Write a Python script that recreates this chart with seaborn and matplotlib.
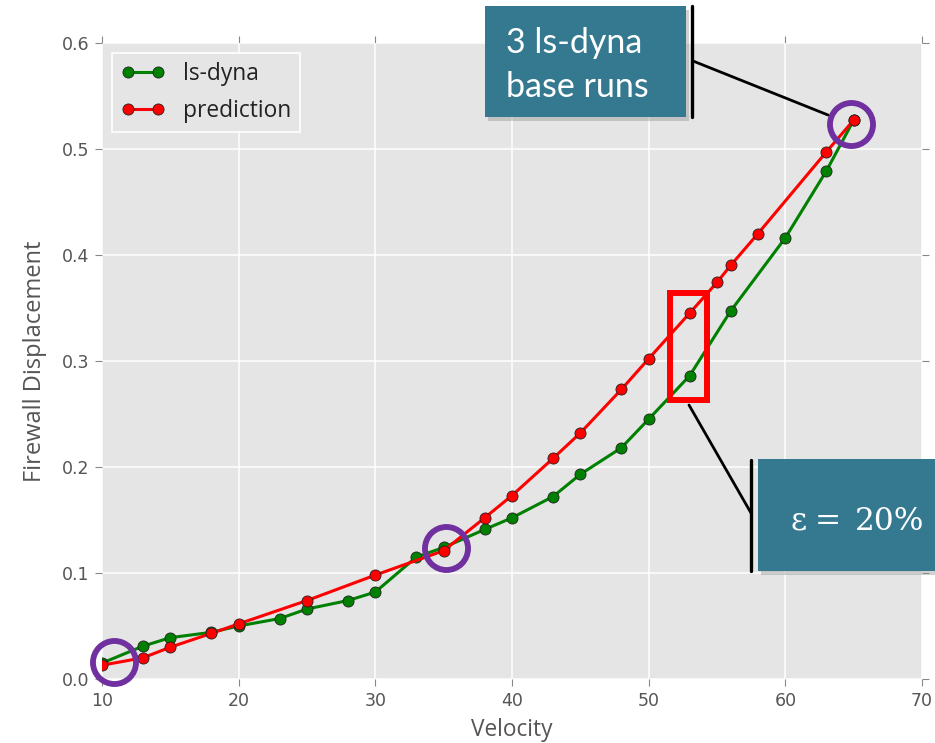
import matplotlib
matplotlib.use("Agg")
import matplotlib.pyplot as plt
import matplotlib.patches as mpatches
from matplotlib.lines import Line2D
import seaborn as sns
import pandas as pd

# ---------------- data ----------------
vel_lsdyna = [10, 13, 15, 18, 20, 23, 25, 28, 30, 33, 35, 38, 40, 43, 45, 48, 50, 53, 56, 60, 63, 65]
disp_lsdyna = [0.015, 0.031, 0.039, 0.044, 0.050, 0.057, 0.066, 0.074, 0.082, 0.115, 0.124,
               0.141, 0.152, 0.172, 0.193, 0.218, 0.245, 0.286, 0.347, 0.416, 0.479, 0.527]
vel_pred = [10, 13, 15, 18, 20, 25, 30, 35, 38, 40, 43, 45, 48, 50, 53, 55, 56, 58, 63, 65]
disp_pred = [0.013, 0.020, 0.030, 0.043, 0.052, 0.074, 0.098, 0.121, 0.152, 0.173, 0.208,
             0.232, 0.273, 0.302, 0.345, 0.374, 0.390, 0.420, 0.497, 0.527]
x_ticks = [10, 20, 30, 40, 50, 60, 70]
y_ticks = [0.0, 0.1, 0.2, 0.3, 0.4, 0.5, 0.6]
series_names = ["ls-dyna", "prediction"]
box1_lines = ["3 ls-dyna", "base runs"]
box2_parts = ["ε", "=", "20%"]

df_ls = pd.DataFrame({"Velocity": vel_lsdyna, "disp": disp_lsdyna})
df_pr = pd.DataFrame({"Velocity": vel_pred, "disp": disp_pred})

# ---------------- style ----------------
sns.set_theme(style="darkgrid")
plt.rcParams["font.family"] = ["DejaVu Sans"]

W, H = 935, 743
fig = plt.figure(figsize=(W / 100, H / 100), dpi=100)
fig.patch.set_facecolor("white")
ax = fig.add_axes([102 / W, (H - 679) / H, 820 / W, (679 - 42.7) / H])
ax.set_facecolor("#E5E5E5")
ax.grid(True, color="white", linewidth=1.1)
ax.set_axisbelow(True)
for s in ax.spines.values():
    s.set_visible(False)

sns.lineplot(data=df_ls, x="Velocity", y="disp", ax=ax, color="#008000", linewidth=2.2,
             marker="o", markersize=8, markeredgecolor="#222222", markeredgewidth=0.6,
             label=series_names[0], zorder=3)
sns.lineplot(data=df_pr, x="Velocity", y="disp", ax=ax, color="#FF0000", linewidth=2.2,
             marker="o", markersize=8, markeredgecolor="#222222", markeredgewidth=0.6,
             label=series_names[1], zorder=4)

ax.set_xlim(10, 70)
ax.set_ylim(0.0, 0.6)
ax.set_xticks(x_ticks)
ax.set_yticks(y_ticks)
ax.set_yticklabels([f"{v:.1f}" for v in y_ticks])
ax.tick_params(axis="both", which="both", direction="out", length=5, width=0.8,
               color="#888888", labelcolor="#555555", labelsize=12.5, pad=4,
               top=True, right=True, bottom=True, left=True,
               labeltop=False, labelright=False)

ax.set_xlabel("Velocity", fontfamily="Open Sans", fontsize=16.3, color="#555555")
ax.set_ylabel("Firewall Displacement", fontfamily="Open Sans", fontsize=17, color="#555555")
ax.xaxis.set_label_coords(0.5, -0.080)
ax.xaxis.label.set_va("center")
ax.yaxis.set_label_coords(-0.0817, 0.5)
ax.yaxis.label.set_va("center")

leg = ax.legend(loc="upper left", numpoints=2, prop={"family": "Open Sans", "size": 16.4},
                handlelength=1.9, handletextpad=0.8, borderpad=0.4, labelspacing=0.55,
                frameon=True, fancybox=False, borderaxespad=0.45)
leg.get_frame().set_facecolor("#E5E5E5")
leg.get_frame().set_edgecolor("white")
leg.get_frame().set_linewidth(1.2)
leg.get_frame().set_alpha(1)
for t in leg.get_texts():
    t.set_color("#222222")

# ---------------- annotations ----------------
purple = "#7030A0"
for cx, cy in [(10.88, 0.016), (35.15, 0.1235), (64.77, 0.523)]:
    ax.plot([cx], [cy], marker="o", markersize=31, markerfacecolor="none",
            markeredgecolor=purple, markeredgewidth=4.2, clip_on=False, zorder=10)

ax.add_patch(mpatches.Rectangle((51.54, 0.2634), 2.73, 0.1006, fill=False,
                                edgecolor="#FF0000", linewidth=4.3, zorder=9, clip_on=False))


def fx(x):
    return x / W


def fy(y):
    return 1 - y / H


teal = "#34798F"
# box 1
fig.add_artist(mpatches.Rectangle((fx(488), fy(121)), 201 / W, 111 / H, transform=fig.transFigure,
                                  facecolor="#999999", edgecolor="none", alpha=0.45, zorder=20))
fig.add_artist(mpatches.Rectangle((fx(485), fy(117)), 201 / W, 111 / H, transform=fig.transFigure,
                                  facecolor=teal, edgecolor="none", zorder=21))
fig.add_artist(Line2D([fx(692), fx(692)], [fy(6), fy(117)], transform=fig.transFigure,
                      color="black", linewidth=2.4, zorder=22))
fig.add_artist(Line2D([fx(693), fx(828)], [fy(61), fy(115)], transform=fig.transFigure,
                      color="black", linewidth=2.0, zorder=22))
fig.text(fx(506), fy(53), box1_lines[0], fontfamily="Lato", fontsize=24.5, color="white",
         ha="left", va="baseline", zorder=23)
fig.text(fx(506), fy(97), box1_lines[1], fontfamily="Lato", fontsize=24.5, color="white",
         ha="left", va="baseline", zorder=23)

# box 2
fig.add_artist(mpatches.Rectangle((fx(761), fy(575)), 200 / W, 112 / H, transform=fig.transFigure,
                                  facecolor="#999999", edgecolor="none", alpha=0.45, zorder=20))
fig.add_artist(mpatches.Rectangle((fx(758), fy(571)), 200 / W, 112 / H, transform=fig.transFigure,
                                  facecolor=teal, edgecolor="none", zorder=21))
fig.add_artist(Line2D([fx(751), fx(751)], [fy(460), fy(571)], transform=fig.transFigure,
                      color="black", linewidth=2.4, zorder=22))
fig.add_artist(Line2D([fx(689), fx(751)], [fy(405), fy(513)], transform=fig.transFigure,
                      color="black", linewidth=2.0, zorder=22))
for part, px in zip(box2_parts, [791, 815, 855]):
    fig.text(fx(px), fy(530), part, fontfamily="DejaVu Serif", fontsize=22.5, color="white",
             ha="left", va="baseline", zorder=23)

fig.savefig("out.png", dpi=100, facecolor="white")
